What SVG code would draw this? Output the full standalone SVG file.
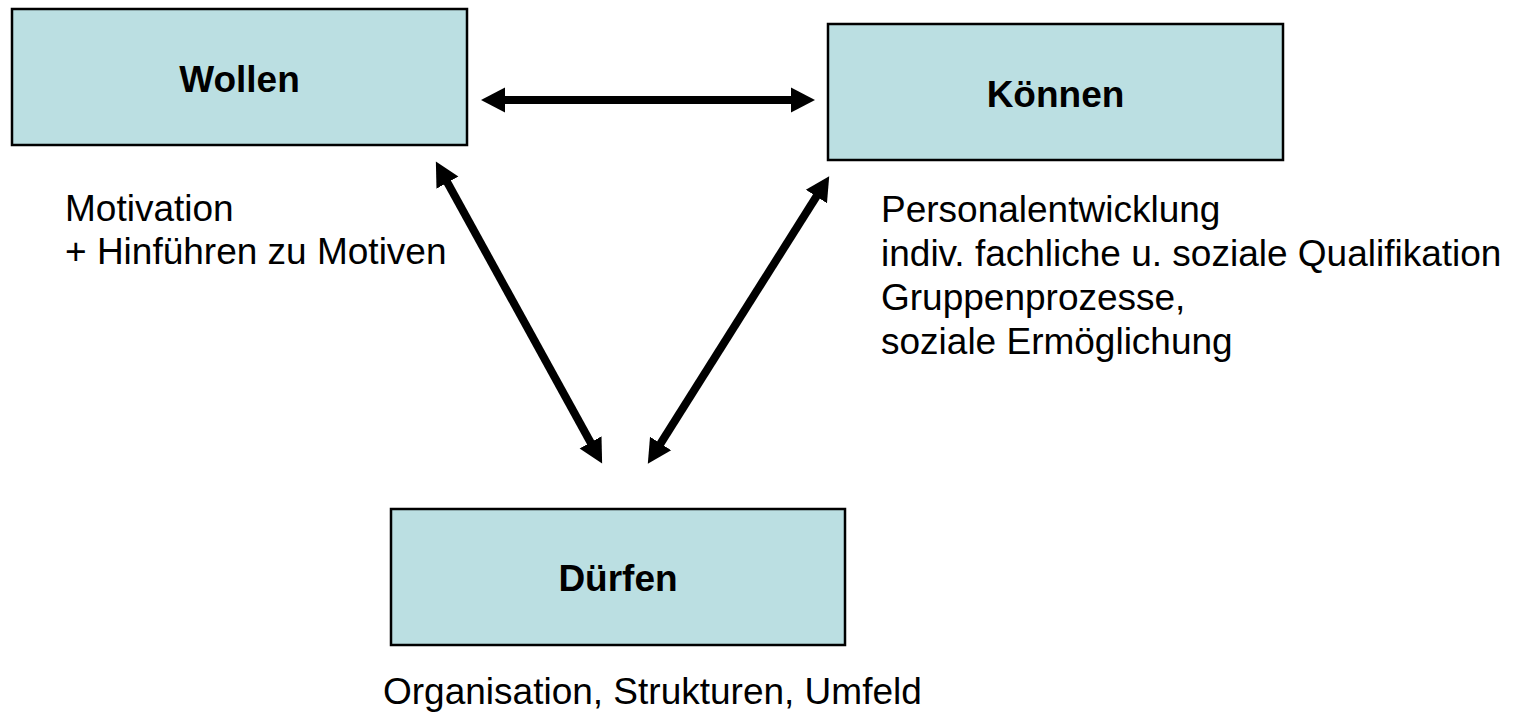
<svg xmlns="http://www.w3.org/2000/svg" width="1517" height="713" viewBox="0 0 1517 713">
  <style>
    .box { fill: #BBDFE2; stroke: #000; stroke-width: 2.5; }
    .title { font-family: "Liberation Sans", Arial, sans-serif; font-size: 37px; font-weight: bold; fill: #000; text-anchor: middle; }
    .note { font-family: "Liberation Sans", Arial, sans-serif; font-size: 37px; fill: #000; }
    .conn { fill: none; stroke: #000; stroke-width: 8; marker-start: url(#head); marker-end: url(#head); }
  </style>
  <defs>
    <!-- solid triangular arrowhead, used at both ends of every connector -->
    <marker id="head" markerUnits="userSpaceOnUse" markerWidth="25" markerHeight="27" viewBox="0 0 25 27" refX="3" refY="13.5" orient="auto-start-reverse">
      <path d="M0,1 L24,13.5 L0,26 z" fill="#000"/>
    </marker>
  </defs>

  <g id="connectors">
    <path class="conn" d="M502,100 L794,100"/>
    <path class="conn" d="M446,180 L592,445"/>
    <path class="conn" d="M818,194 L659,446"/>
  </g>

  <g id="wollen">
    <rect class="box" x="12" y="9" width="455" height="136"/>
    <text class="title" x="239.5" y="92">Wollen</text>
    <text class="note" x="65" y="221">Motivation</text>
    <text class="note" x="65" y="264">+ Hinführen zu Motiven</text>
  </g>

  <g id="koennen">
    <rect class="box" x="828" y="24" width="455" height="136"/>
    <text class="title" x="1055.5" y="107">Können</text>
    <text class="note" x="881" y="222">Personalentwicklung</text>
    <text class="note" x="881" y="266">indiv. fachliche u. soziale Qualifikation</text>
    <text class="note" x="881" y="310">Gruppenprozesse,</text>
    <text class="note" x="881" y="354">soziale Ermöglichung</text>
  </g>

  <g id="duerfen">
    <rect class="box" x="391" y="509" width="454" height="136"/>
    <text class="title" x="618" y="591">Dürfen</text>
    <text class="note" x="383" y="704">Organisation, Strukturen, Umfeld</text>
  </g>
</svg>
